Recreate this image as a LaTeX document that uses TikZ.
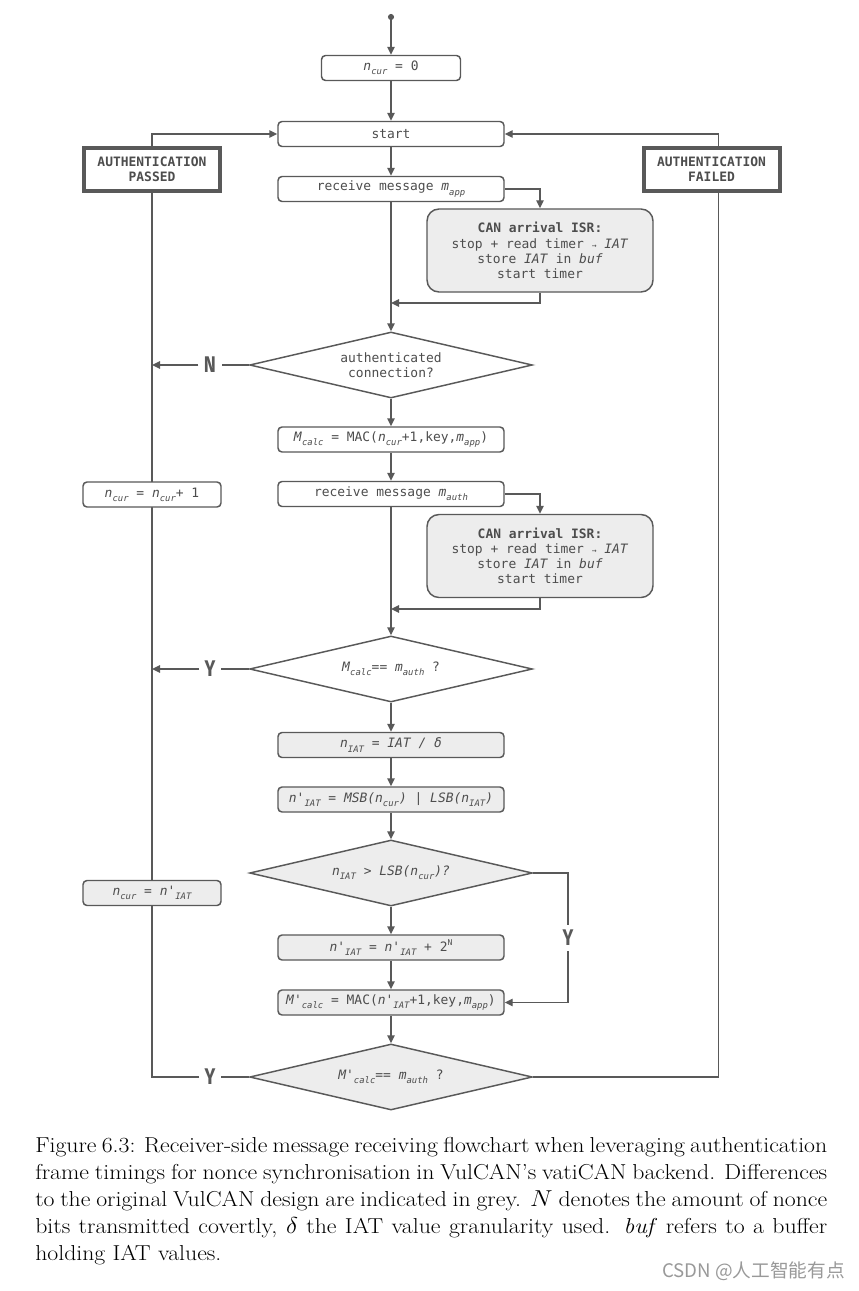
\documentclass[tikz,border=0pt]{standalone}
\usepackage{fontspec}
\usetikzlibrary{shapes.geometric,arrows.meta,backgrounds,calc}
\newfontfamily\dm{DejaVu Sans Mono}
\newfontfamily\yn{Fira Sans}
\newfontfamily\cjk{Noto Sans CJK SC}
\definecolor{lc}{HTML}{595959}
\definecolor{tc}{HTML}{4D4D4D}
\definecolor{gf}{HTML}{EDEDED}
\newcommand{\sbx}[1]{\raisebox{-0.6ex}{\fontsize{6.7}{6.7}\selectfont\itshape #1}}
\newcommand{\spx}[1]{\raisebox{0.9ex}{\fontsize{6}{6}\selectfont #1}}
\newcommand{\smarr}{{\fontsize{6}{6}\selectfont →}}
\tikzset{
 base/.style={font=\dm\fontsize{9.7}{11.4}\selectfont, text=tc, draw=lc, line width=1.1pt, align=center, inner sep=0pt},
 pbox/.style={base, rectangle, rounded corners=3pt, minimum width=169.5pt, minimum height=18.75pt, fill=white},
 gbox/.style={pbox, fill=gf},
 sbox/.style={pbox, minimum width=103.5pt},
 isrbox/.style={base, rectangle, rounded corners=9pt, fill=gf, minimum width=169.5pt, minimum height=62.25pt},
 dia/.style={base, diamond, aspect=4.3, minimum width=212pt, minimum height=49.5pt, fill=white},
 gdia/.style={dia, fill=gf},
 term/.style={base, rectangle, font=\dm\bfseries\fontsize{9.7}{11.4}\selectfont, line width=3pt, minimum width=102pt, minimum height=32pt, fill=white},
 lab/.style={font=\yn\bfseries\fontsize{17}{17}\selectfont, text=lc, inner sep=4pt},
 conn/.style={draw=lc, line width=1.1pt},
 arr/.style={conn, -{Triangle[length=6pt,width=5.5pt]}},
}
\begin{document}
\begin{tikzpicture}[x=0.75pt,y=-0.75pt]
\useasboundingbox (0,0) rectangle (859,1291);
% nodes
\node[pbox, minimum width=104.25pt] (n0) at (391,68) {\textit{n}\sbx{cur} = 0};
\node[pbox] (start) at (391,134) {start};
\node[pbox] (r1) at (391,189) {receive message \textit{m}\sbx{app}};
\node[isrbox] (i1) at (540,250.5) {\textbf{CAN arrival ISR:}\\stop + read timer \smarr\ \textit{IAT}\\store \textit{IAT} in \textit{buf}\\start timer};
\node[dia] (d1) at (391,365) {authenticated\\connection?};
\node[pbox] (mc) at (391,439.5) {\textit{M}\sbx{calc} = MAC(\textit{n}\sbx{cur}+1,key,\textit{m}\sbx{app})};
\node[pbox] (r2) at (391,494) {receive message \textit{m}\sbx{auth}};
\node[isrbox] (i2) at (540,556) {\textbf{CAN arrival ISR:}\\stop + read timer \smarr\ \textit{IAT}\\store \textit{IAT} in \textit{buf}\\start timer};
\node[dia] (d2) at (391,669) {\textit{M}\sbx{calc}== \textit{m}\sbx{auth} ?};
\node[gbox] (ni) at (391,745) {\itshape n\sbx{IAT} = IAT / δ};
\node[gbox] (np) at (391,799.5) {\itshape n'\sbx{IAT} = MSB(n\sbx{cur}) | LSB(n\sbx{IAT})};
\node[gdia] (d3) at (391,873) {\itshape n\sbx{IAT} > LSB(n\sbx{cur})?};
\node[gbox] (n2) at (391,947.5) {\textit{n'}\sbx{IAT} = \textit{n'}\sbx{IAT} + 2\spx{N}};
\node[gbox] (mp) at (391,1002.5) {\textit{M'}\sbx{calc} = MAC(\textit{n'}\sbx{IAT}+1,key,\textit{m}\sbx{app})};
\node[gdia] (d4) at (391,1077) {\textit{M'}\sbx{calc}== \textit{m}\sbx{auth} ?};
\node[sbox] (c1) at (152,494.5) {\textit{n}\sbx{cur} = \textit{n}\sbx{cur}+ 1};
\node[sbox, fill=gf] (c2) at (152,893) {\textit{n}\sbx{cur} = \textit{n'}\sbx{IAT}};
\node[term] (ap) at (152,169.5) {AUTHENTICATION\\PASSED};
\node[term] (af) at (711.5,169.5) {AUTHENTICATION\\FAILED};
\node[lab] (N1) at (210,365) {\scalebox{0.8}[1]{N}};
\node[lab] (Y2) at (210,669) {\scalebox{0.8}[1]{Y}};
\node[lab] (Y3) at (568,938) {\scalebox{0.8}[1]{Y}};
\node[lab] (Y4) at (210,1077) {\scalebox{0.8}[1]{Y}};
\coordinate (top) at (391,17);
\coordinate (j1) at (391,303);
\coordinate (j2) at (391,609);
\coordinate (L) at (152,0);
\coordinate (R) at (718.5,0);
% connectors
\begin{scope}[on background layer]
\fill[white] (0,0) rectangle (859,1291);
\fill[lc] (top) circle (2.3pt);
\draw[arr] (top) -- (n0.north);
\draw[arr] (n0) -- (start);
\draw[arr] (start) -- (r1);
\draw[arr] (r1.east) -| (i1.north);
\draw[arr] (i1.south) |- (j1);
\draw[arr] (r1) -- (d1.north);
\draw[arr] (d1) -- (mc);
\draw[arr] (mc) -- (r2);
\draw[arr] (r2.east) -| (i2.north);
\draw[arr] (i2.south) |- (j2);
\draw[arr] (r2) -- (d2.north);
\draw[arr] (d2) -- (ni);
\draw[arr] (ni) -- (np);
\draw[arr] (np) -- (d3.north);
\draw[arr] (d3) -- (n2);
\draw[arr] (n2) -- (mp);
\draw[arr] (mp) -- (d4.north);
\draw[conn] (d3.east) -| (Y3.north);
\draw[arr] (Y3.south) |- (mp.east);
\draw[conn] (d1.west) -- (N1.east);
\draw[arr] (N1.west) -- (N1.west -| L);
\draw[conn] (d2.west) -- (Y2.east);
\draw[arr] (Y2.west) -- (Y2.west -| L);
\draw[conn] (d4.west) -- (Y4.east);
\draw[conn] (Y4.west) -| (ap.south);
\draw[arr] (ap.north) |- (start.west);
\draw[conn] (d4.east) -| (R |- af.south);
\draw[arr] (R |- af.north) |- (start.east);
\end{scope}
% caption
\node[anchor=north west, inner sep=0pt] (cap) at (35,1137)
{\scalebox{1.1}[1]{\parbox[t]{540pt}{\fontsize{16.2}{20.25}\selectfont
Figure 6.3: Receiver-side message receiving flowchart when leveraging authentication\linebreak
frame timings for nonce synchronisation in VulCAN's vatiCAN backend. Differences\linebreak
to the original VulCAN design are indicated in grey. $N$ denotes the amount of nonce\linebreak
bits transmitted covertly, $\delta$ the IAT value granularity used. \textit{buf} refers to a buffer\linebreak
holding IAT values.}}};
\node[font=\cjk\fontsize{14}{14}\selectfont, text=black!40, anchor=east, inner sep=0pt] (wm) at (845,1271) {CSDN @人工智能有点};
\end{tikzpicture}
\end{document}
